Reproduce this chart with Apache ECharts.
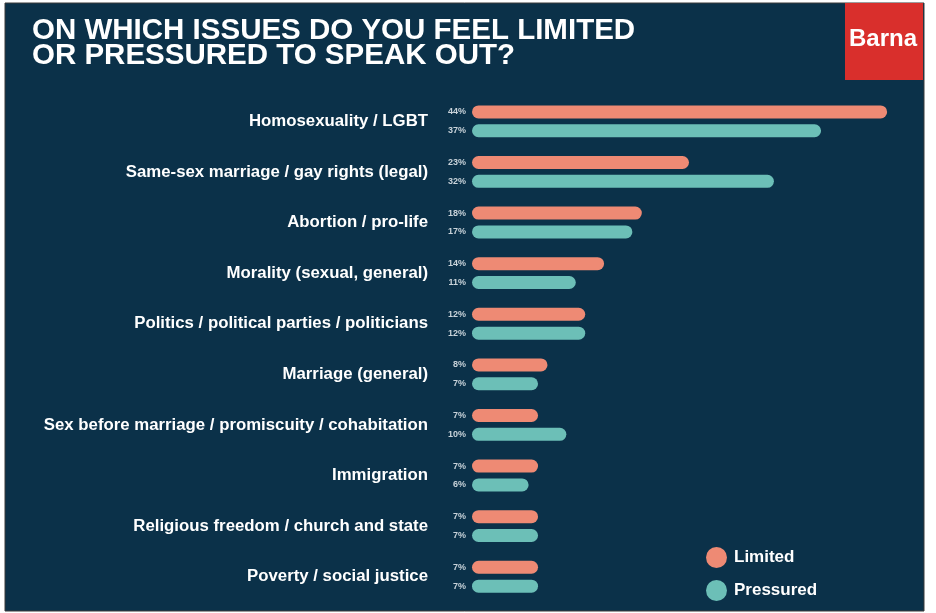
<!DOCTYPE html>
<html>
<head>
<meta charset="utf-8">
<script src="https://cdn.jsdelivr.net/npm/echarts@6/dist/echarts.min.js"></script>
<style>html,body{margin:0;padding:0;background:#fff}#c{width:936px;height:613px}</style>
</head>
<body>
<div id="c"></div>
<script>
const categories = [
  'Homosexuality / LGBT',
  'Same-sex marriage / gay rights (legal)',
  'Abortion / pro-life',
  'Morality (sexual, general)',
  'Politics / political parties / politicians',
  'Marriage (general)',
  'Sex before marriage / promiscuity / cohabitation',
  'Immigration',
  'Religious freedom / church and state',
  'Poverty / social justice'
];
const limited = [44, 23, 18, 14, 12, 8, 7, 7, 7, 7];
const pressured = [37, 32, 17, 11, 12, 7, 10, 6, 7, 7];
const seriesNames = ['Limited', 'Pressured'];

const BG = '#0b3149';
const CORAL = '#ee8a74';
const TEAL = '#6cbfb7';
const FONT = '"Liberation Sans", Arial, sans-serif';

const chart = echarts.init(document.getElementById('c'), null, {renderer: 'canvas'});
const valueLabel = {
  show: true, position: 'left', distance: 6,
  formatter: p => p.value + '%',
  color: '#c9d3da', fontSize: 9, fontWeight: 'bold', fontFamily: FONT
};
chart.setOption({
  backgroundColor: '#ffffff',
  animation: false,
  graphic: [
    {type: 'rect', z: -10, shape: {x: 5, y: 3, width: 919, height: 608},
     style: {fill: BG, stroke: '#3a3a3a', lineWidth: 1}},
    {type: 'rect', z: 1, shape: {x: 845, y: 3, width: 78, height: 77},
     style: {fill: '#d92f2c'}},
    {type: 'text', z: 2, left: 849, top: 27,
     style: {text: 'Barna', fill: '#ffffff', font: 'bold 24px ' + FONT}}
  ],
  title: {
    text: 'ON WHICH ISSUES DO YOU FEEL LIMITED\nOR PRESSURED TO SPEAK OUT?',
    left: 27, top: 13,
    textStyle: {color: '#ffffff', fontSize: 29.5, fontWeight: 'bold', fontFamily: FONT, lineHeight: 25}
  },
  legend: {
    orient: 'vertical', left: 701, top: 542,
    icon: 'circle', itemWidth: 21, itemHeight: 21, itemGap: 12,
    data: seriesNames,
    textStyle: {color: '#ffffff', fontSize: 17, fontFamily: FONT, fontWeight: 'bold', padding: [0, 0, 0, 2]}
  },
  grid: {left: 472, right: 30, top: 96, bottom: 11, containLabel: false},
  xAxis: {type: 'value', min: 0, max: 46, show: false},
  yAxis: {
    type: 'category', data: categories, inverse: true,
    axisLine: {show: false}, axisTick: {show: false},
    axisLabel: {color: '#ffffff', fontSize: 16.8, fontWeight: 'bold', fontFamily: FONT, margin: 44, align: 'right', padding: [3, 0, 0, 0]}
  },
  series: [
    {name: seriesNames[0], type: 'bar', data: limited, barWidth: 13, barGap: '45%',
     itemStyle: {color: CORAL, borderRadius: 7}, label: valueLabel},
    {name: seriesNames[1], type: 'bar', data: pressured, barWidth: 13,
     itemStyle: {color: TEAL, borderRadius: 7}, label: valueLabel}
  ]
});
</script>
</body>
</html>
